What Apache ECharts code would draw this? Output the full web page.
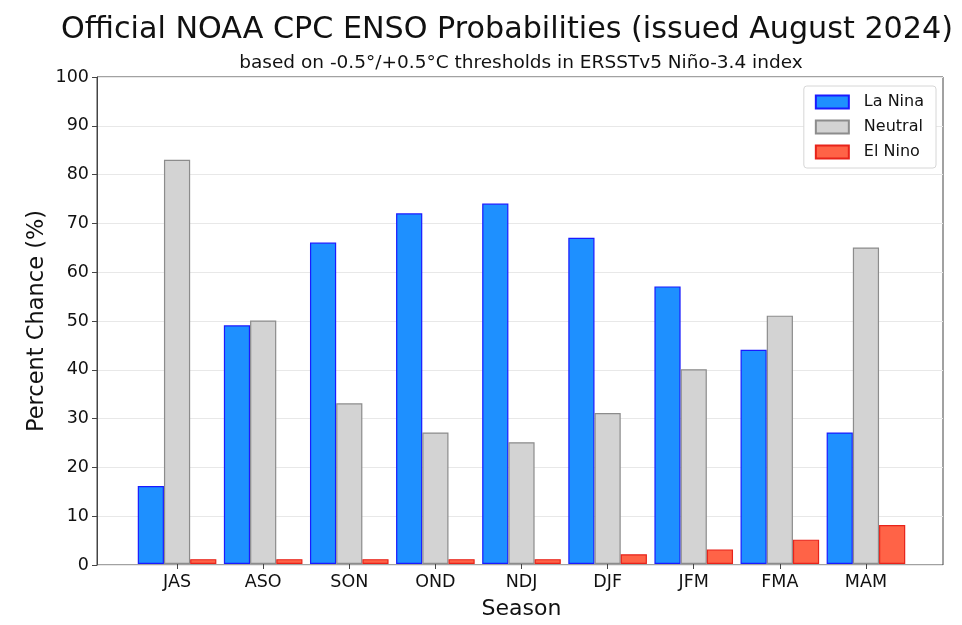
<!DOCTYPE html>
<html>
<head>
<meta charset="utf-8">
<script src="https://cdn.jsdelivr.net/npm/echarts@6/dist/echarts.min.js"></script>
<style>
  html, body { margin: 0; padding: 0; background: #fff; }
  #chart { width: 962px; height: 625px; }
</style>
</head>
<body>
<div id="chart"></div>
<script>
// seasons and probabilities (%)
var seasons = ['JAS', 'ASO', 'SON', 'OND', 'NDJ', 'DJF', 'JFM', 'FMA', 'MAM'];
var laNina = [16, 49, 66, 72, 74, 67, 57, 44, 27];
var neutral = [83, 50, 33, 27, 25, 31, 40, 51, 65];
var elNino = [1, 1, 1, 1, 1, 2, 3, 5, 8];
var yTicks = [0, 100, 10]; // min, max, step

var font = 'DejaVu Sans';
var chart = echarts.init(document.getElementById('chart'), null, { renderer: 'canvas' });

var barStyle = function (fill, edge) {
    return { color: fill, borderColor: edge, borderWidth: 1.2 };
};

chart.setOption({
    animation: false,
    textStyle: { fontFamily: font, color: '#222' },
    graphic: [
        {
            type: 'text', x: 507, y: 30,
            style: {
                text: 'Official NOAA CPC ENSO Probabilities (issued August 2024)',
                font: '30.2px "DejaVu Sans"',
                fill: '#111', textAlign: 'center', textVerticalAlign: 'middle'
            }
        },
        {
            type: 'text', x: 521, y: 63,
            style: {
                text: 'based on -0.5°/+0.5°C thresholds in ERSSTv5 Niño-3.4 index',
                font: '18.5px "DejaVu Sans"',
                fill: '#111', textAlign: 'center', textVerticalAlign: 'middle'
            }
        }
    ],
    legend: {
        orient: 'vertical',
        right: 26, top: 86,
        icon: 'rect',
        itemWidth: 33, itemHeight: 13, itemGap: 9,
        padding: [8, 12, 8, 11],
        backgroundColor: '#fff',
        borderColor: '#d6d6d6', borderWidth: 1, borderRadius: 3,
        textStyle: { fontFamily: font, fontSize: 16, color: '#111', padding: [0, 0, 0, 10] },
        data: ['La Nina', 'Neutral', 'El Nino']
    },
    grid: [
        // outer frame (axes box)
        { left: 97, top: 77, width: 846, height: 488, show: true, borderColor: '#444', borderWidth: 1, backgroundColor: 'transparent' },
        // bar area
        { left: 134, top: 77, width: 775, height: 488 }
    ],
    xAxis: [
        { type: 'value', gridIndex: 0, min: 0, max: 1, show: false },
        {
            type: 'category', gridIndex: 1, data: seasons,
            axisLine: { show: false },
            axisTick: { show: true, alignWithLabel: true, length: 5, lineStyle: { color: '#444' } },
            axisLabel: { fontSize: 17.5, color: '#111', margin: 9 },
            name: 'Season', nameLocation: 'middle', nameGap: 34, nameMoveOverlap: false,
            nameTextStyle: { fontSize: 22, color: '#111' }
        }
    ],
    yAxis: [
        {
            type: 'value', gridIndex: 0, min: yTicks[0], max: yTicks[1], interval: yTicks[2],
            axisLine: { show: true, lineStyle: { color: '#444' } },
            axisTick: { show: true, length: 5, lineStyle: { color: '#444' } },
            axisLabel: { fontSize: 17.5, color: '#111', margin: 8 },
            splitLine: { show: true, lineStyle: { color: '#e8e8e8', width: 1 } },
            name: 'Percent Chance (%)', nameLocation: 'middle', nameGap: 48, nameMoveOverlap: false,
            nameTextStyle: { fontSize: 22.5, color: '#111' }
        },
        { type: 'value', gridIndex: 1, min: yTicks[0], max: yTicks[1], show: false }
    ],
    series: [
        { name: 'La Nina', type: 'bar', xAxisIndex: 1, yAxisIndex: 1, data: laNina, barWidth: 26.2, barGap: '0%', itemStyle: barStyle('#1e90ff', '#1a1aff') },
        { name: 'Neutral', type: 'bar', xAxisIndex: 1, yAxisIndex: 1, data: neutral, barWidth: 26.2, barGap: '0%', itemStyle: barStyle('#d3d3d3', '#8c8c8c') },
        { name: 'El Nino', type: 'bar', xAxisIndex: 1, yAxisIndex: 1, data: elNino, barWidth: 26.2, barGap: '0%', itemStyle: barStyle('#ff6347', '#e8231a') }
    ]
});
</script>
</body>
</html>
